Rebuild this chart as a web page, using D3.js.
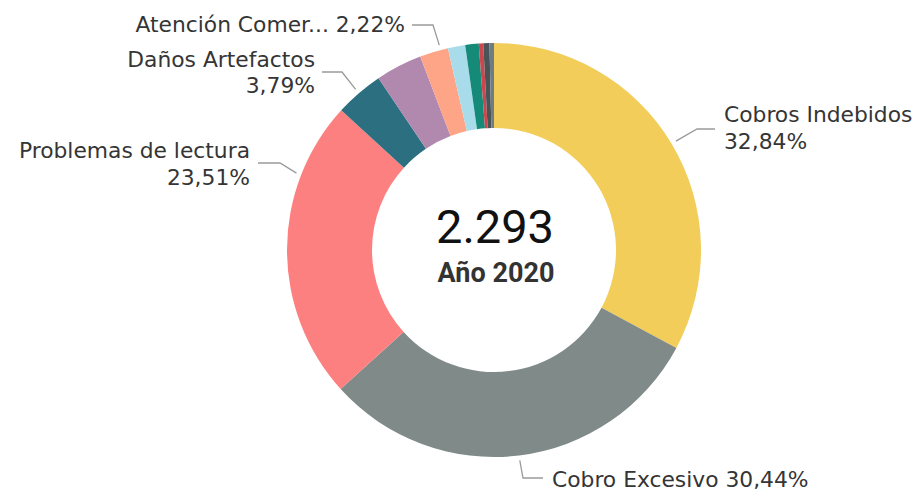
<!DOCTYPE html>
<html>
<head>
<meta charset="utf-8">
<script src="https://cdn.jsdelivr.net/npm/d3@7/dist/d3.min.js"></script>
<style>
  html, body { margin: 0; padding: 0; background: #ffffff; }
  svg { display: block; }
</style>
</head>
<body>
<svg id="chart" width="917" height="491"></svg>
<script>
// ---- Data ----
const categories = [
  "Cobros Indebidos", "Cobro Excesivo", "Problemas de lectura", "Daños Artefactos",
  "Categoría 5", "Atención Comercial", "Categoría 7", "Categoría 8",
  "Categoría 9", "Categoría 10", "Categoría 11"
];
const values = [753, 698, 539, 87, 83, 51, 31, 24, 8, 11, 8];
const colors = [
  "#F2CD5A", "#7F8A89", "#FD8080", "#2B6F81", "#B188AE", "#FDA586",
  "#A9DCEA", "#168A78", "#C9474D", "#4A5457", "#6E7C86"
];
const centerSubtitle = "Año 2020";
// Displayed label names (Power BI truncates long names)
const labelNames = ["Cobros Indebidos", "Cobro Excesivo", "Problemas de lectura", "Daños Artefactos", null, "Atención Comer...", null, null, null, null, null];

// ---- Layout config (label placement) ----
const W = 917, H = 491;
const cx = 494, cy = 250, outerR = 207, innerR = 122, leaderR = 212;
const labelLayout = {
  0: { t: 0.5,  elbow: [697, 129], end: [715, 129], tx: 724, anchor: "start", lines: "two", base: [122, 149] },
  1: { t: 0.5,  elbow: [523, 478], end: [543, 478], tx: 552, anchor: "start", lines: "one", base: [487] },
  2: { t: 0.75, elbow: [280, 163], end: [258, 163], tx: 250, anchor: "end",   lines: "two", base: [158, 185] },
  3: { t: 0.5,  elbow: [342, 72],  end: [322, 72],  tx: 315, anchor: "end",   lines: "two", base: [67, 93] },
  5: { t: 0.74, elbow: [433, 25],  end: [412, 25],  tx: 405, anchor: "end",   lines: "one", base: [32] }
};

const locale = d3.formatLocale({ decimal: ",", thousands: ".", grouping: [3], currency: ["$", ""] });
const fmtInt = locale.format(",d");
const fmtPct = locale.format(".2f");

const total = d3.sum(values);
const data = categories.map((c, i) => ({ name: c, value: values[i], color: colors[i], idx: i }));

const svg = d3.select("#chart");
const g = svg.append("g").attr("transform", `translate(${cx},${cy})`);

const pie = d3.pie().value(d => d.value).sort(null);
const arcs = pie(data);
const arc = d3.arc().innerRadius(innerR).outerRadius(outerR);

g.selectAll("path.slice")
  .data(arcs)
  .enter().append("path")
  .attr("class", "slice")
  .attr("d", arc)
  .attr("fill", d => d.data.color)
  .attr("stroke", "none");

// ---- Labels ----
const labelFont = "'DejaVu Sans', sans-serif";
arcs.forEach(a => {
  const L = labelLayout[a.data.idx];
  if (!L) return;
  const ang = a.startAngle + L.t * (a.endAngle - a.startAngle);
  const sx = cx + leaderR * Math.sin(ang);
  const sy = cy - leaderR * Math.cos(ang);
  svg.append("polyline")
    .attr("points", [[sx, sy], L.elbow, L.end].map(p => p.join(",")).join(" "))
    .attr("fill", "none")
    .attr("stroke", "#9a9a9a")
    .attr("stroke-width", 1.3);

  const pct = fmtPct(a.data.value / total * 100) + "%";
  const name = labelNames[a.data.idx];
  const txt = svg.append("text")
    .attr("text-anchor", L.anchor)
    .attr("font-family", labelFont)
    .attr("font-size", 21.8)
    .attr("fill", "#353535");
  if (L.lines === "two") {
    txt.append("tspan").attr("x", L.tx).attr("y", L.base[0]).text(name);
    txt.append("tspan").attr("x", L.tx).attr("y", L.base[1]).text(pct);
  } else {
    txt.append("tspan").attr("x", L.tx).attr("y", L.base[0]).text(name + " " + pct);
  }
});

// ---- Center text ----
svg.append("text")
  .attr("x", cx + 1).attr("y", 243)
  .attr("text-anchor", "middle")
  .attr("font-family", "Roboto, sans-serif")
  .attr("font-size", 47)
  .attr("fill", "#111111")
  .text(fmtInt(total));

svg.append("text")
  .attr("x", cx + 2).attr("y", 282)
  .attr("text-anchor", "middle")
  .attr("font-family", "Roboto, sans-serif")
  .attr("font-weight", "bold")
  .attr("font-size", 27)
  .attr("fill", "#333333")
  .text(centerSubtitle);
</script>
</body>
</html>
